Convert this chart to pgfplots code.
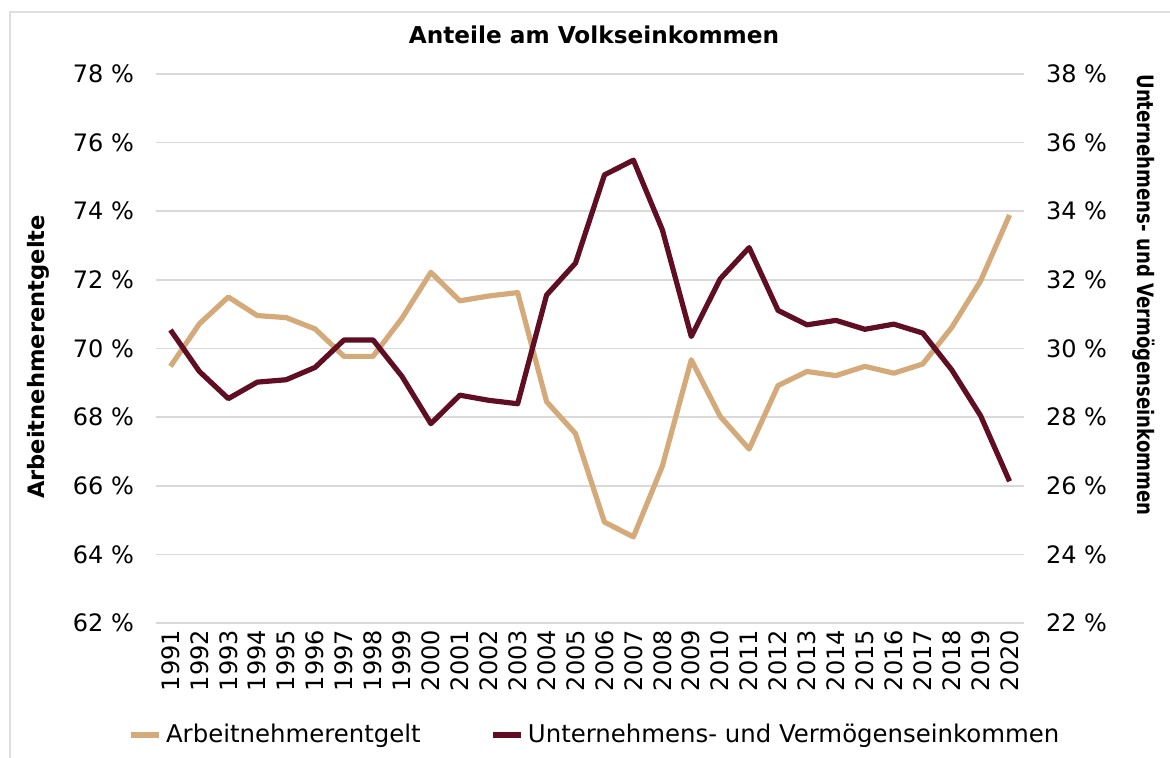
\documentclass[border=0pt]{standalone}
\usepackage{pgfplots}
\pgfplotsset{compat=1.18}
\usepackage{fontspec}
\setmainfont{DejaVu Sans}
\definecolor{beige}{RGB}{213,170,122}
\definecolor{wine}{RGB}{96,14,35}
\definecolor{gridgray}{RGB}{217,217,217}
\definecolor{framegray}{RGB}{222,222,222}

\pgfplotstableread{
year arb
1991 69.48
1992 70.72
1993 71.50
1994 70.96
1995 70.90
1996 70.57
1997 69.77
1998 69.77
1999 70.88
2000 72.22
2001 71.39
2002 71.53
2003 71.63
2004 68.45
2005 67.52
2006 64.94
2007 64.51
2008 66.57
2009 69.67
2010 68.02
2011 67.07
2012 68.92
2013 69.33
2014 69.21
2015 69.48
2016 69.28
2017 69.55
2018 70.61
2019 71.97
2020 73.89
}\arbtable

\pgfplotstableread{
year unt
1991 30.54
1992 29.33
1993 28.54
1994 29.02
1995 29.09
1996 29.45
1997 30.25
1998 30.25
1999 29.19
2000 27.81
2001 28.64
2002 28.49
2003 28.39
2004 31.56
2005 32.49
2006 35.06
2007 35.49
2008 33.46
2009 30.35
2010 32.03
2011 32.94
2012 31.11
2013 30.69
2014 30.82
2015 30.56
2016 30.71
2017 30.45
2018 29.38
2019 28.04
2020 26.13
}\unttable

\begin{document}
\begin{tikzpicture}
\pgfplotsset{
  base/.style={
    at={(78pt,67pt)}, anchor=south west,
    scale only axis, width=434pt, height=274.5pt,
    xmin=1990.5, xmax=2020.5,
    tick style={draw=none},
    major tick length=0pt,
    tick label style={font=\fontsize{12}{14}\selectfont},
  }
}
\begin{axis}[
  base,
  ymin=62, ymax=78,
  ytick={62,64,...,78},
  yticklabels={62 \%,64 \%,66 \%,68 \%,70 \%,72 \%,74 \%,76 \%,78 \%},
  yticklabel style={xshift=-7.5pt},
  xtick={1991,...,2020},
  xticklabels={1991,1992,1993,1994,1995,1996,1997,1998,1999,2000,2001,2002,2003,2004,2005,2006,2007,2008,2009,2010,2011,2012,2013,2014,2015,2016,2017,2018,2019,2020},
  xticklabel style={rotate=90, anchor=east, yshift=0pt},
  axis line style={draw=none},
  ymajorgrids, grid style={gridgray, line width=0.8pt},
  axis y line*=left, axis x line*=bottom,
]
\addplot[beige, line width=2.6pt, line join=round] table[x=year,y=arb] {\arbtable};
\end{axis}
\begin{axis}[
  base,
  ymin=22, ymax=38,
  ytick={22,24,...,38},
  yticklabels={22 \%,24 \%,26 \%,28 \%,30 \%,32 \%,34 \%,36 \%,38 \%},
  yticklabel style={xshift=7.5pt},
  axis y line*=right, axis x line=none,
  axis line style={draw=none},
  legend columns=2,
  legend style={draw=none, fill=none, at={(0.507,-0.204)}, anchor=center,
    font=\fontsize{12.2}{14}\selectfont,
    /tikz/every even column/.append style={column sep=33pt},
    inner sep=0pt, cells={anchor=west}},
  legend image code/.code={\draw[#1, line width=2.6pt] (0pt,0pt) -- (14pt,0pt);},
]
\addlegendimage{beige}
\addlegendentry{Arbeitnehmerentgelt}
\addplot[wine, line width=2.6pt, line join=round] table[x=year,y=unt] {\unttable};
\addlegendentry{Unternehmens- und Vermögenseinkommen}
\end{axis}
\node[font=\bfseries\fontsize{11.6}{14}\selectfont] at (297pt,361pt) {Anteile am Volkseinkommen};
\node[font=\bfseries\fontsize{11.3}{14}\selectfont, rotate=90] at (19pt,200pt) {Arbeitnehmerentgelte};
\node[font=\bfseries\fontsize{11.3}{14}\selectfont, rotate=-90] at (572pt,231pt) {\scalebox{0.8}[1]{Unternehmens- und Vermögenseinkommen}};
\draw[framegray, line width=0.8pt] (5pt,-10pt) -- (5pt,372.5pt) -- (600pt,372.5pt);
\pgfresetboundingbox
\useasboundingbox (0pt,0pt) rectangle (585pt,378.5pt);
\end{tikzpicture}
\end{document}
